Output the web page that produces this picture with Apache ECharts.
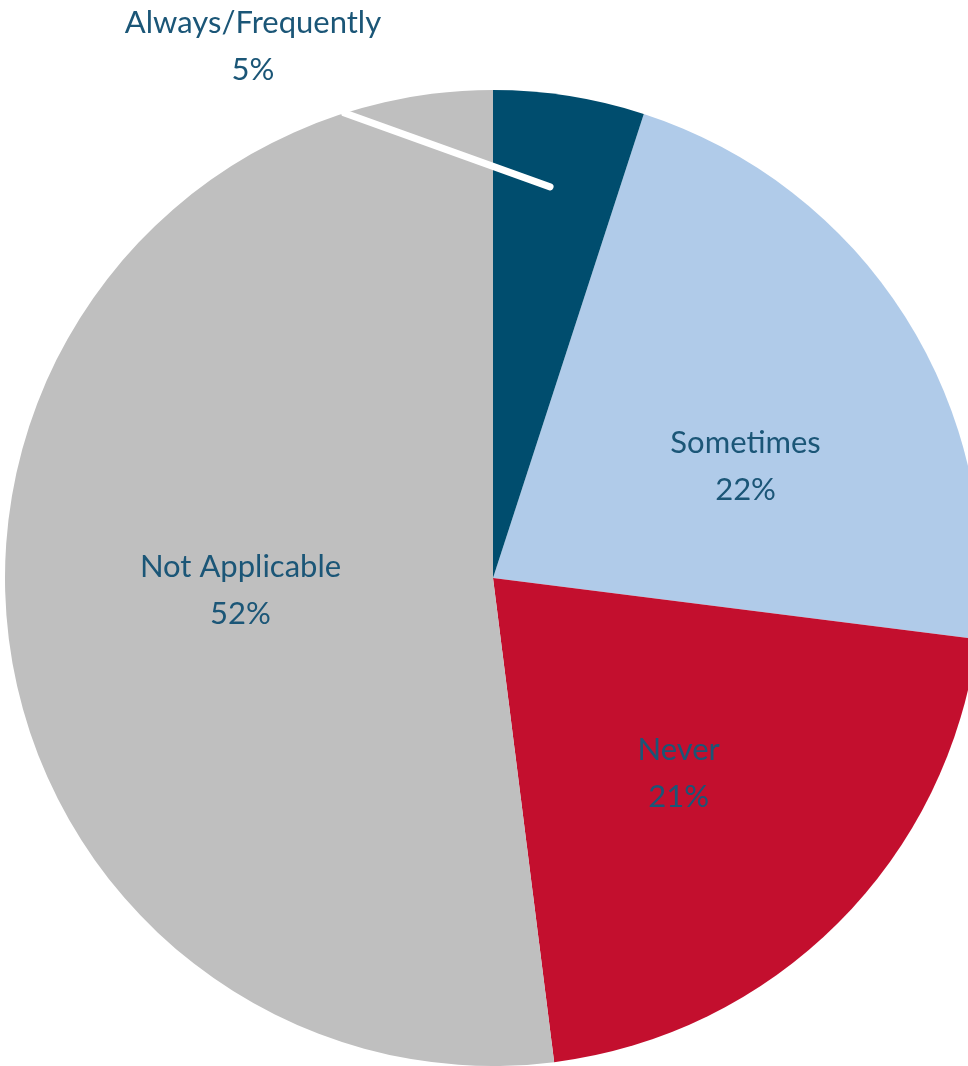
<!DOCTYPE html>
<html><head><meta charset="utf-8">
<script src="https://cdn.jsdelivr.net/npm/echarts@6/dist/echarts.min.js"></script>
<style>html,body{margin:0;padding:0;background:#fff}#c{width:968px;height:1066px}</style>
</head><body><div id="c"></div>
<script>
// Listed in drawing order; the last one (Always/Frequently) sits just clockwise of 12 o'clock
const categories = ['Sometimes', 'Never', 'Not Applicable', 'Always/Frequently'];
const values = [22, 21, 52, 5];
const colors = ['#b0cbe9', '#c30f2e', '#bfbfbf', '#004d6e'];

const CX = 493, CY = 578, R = 488;
const textColor = '#1b5677';
const font = 'Lato';
const total = values.reduce((a, b) => a + b, 0);
const startAngle = 90 - values[3] / total * 360;

function polar(angleDeg, r) {
  const a = angleDeg * Math.PI / 180;
  return [CX + r * Math.sin(a), CY - r * Math.cos(a)];
}

const labelOffsets = [[44, 21], [11, 21], [-6, -3], null];

const base = {
  type: 'pie',
  center: [CX, CY],
  radius: [0, R],
  startAngle: startAngle,
  clockwise: true,
  avoidLabelOverlap: false,
  silent: true
};

const chart = echarts.init(document.getElementById('c'), null, {renderer: 'canvas'});
chart.setOption({
  animation: false,
  series: [
    Object.assign({}, base, {
      z: 2,
      label: {show: false},
      labelLine: {show: false},
      itemStyle: {borderWidth: 0},
      data: categories.map((name, i) => ({name, value: values[i], itemStyle: {color: colors[i]}}))
    }),
    Object.assign({}, base, {
      z: 3,
      itemStyle: {color: 'rgba(0,0,0,0)', borderWidth: 0},
      label: {
        show: true,
        position: 'inner',
        formatter: '{b}\n{c}%',
        color: textColor,
        fontFamily: font,
        fontSize: 31,
        lineHeight: 47
      },
      labelLine: {show: false},
      data: categories.map((name, i) => {
        const d = {name, value: values[i]};
        if (i === 3) {
          d.label = {position: 'outside'};
          d.labelLine = {show: true, lineStyle: {color: '#ffffff', width: 7, cap: 'round'}, smooth: false};
        }
        return d;
      }),
      labelLayout: function (params) {
        const i = params.dataIndex;
        if (i === 3) {
          const p1 = polar(8.3, R * 0.81);
          const p2 = polar(-17.7, R);
          const p3 = polar(-17.7, R + 8);
          return {x: 253, y: 46, align: 'center', verticalAlign: 'middle', labelLinePoints: [p1, p2, p3]};
        }
        const o = labelOffsets[i];
        return {dx: o[0], dy: o[1]};
      }
    })
  ]
});
</script></body></html>
